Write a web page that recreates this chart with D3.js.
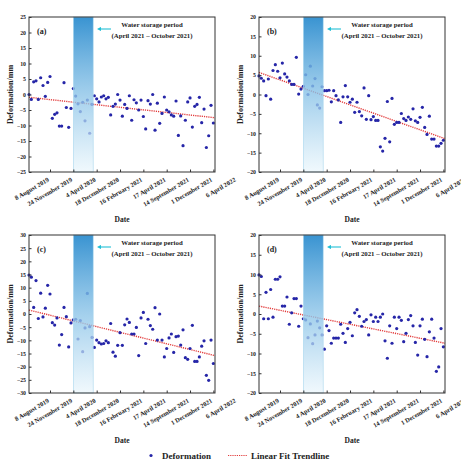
<!DOCTYPE html>
<html>
<head>
<meta charset="utf-8">
<script src="https://cdn.jsdelivr.net/npm/d3@7"></script>
<style>
  body { margin: 0; background: #fff; }
</style>
</head>
<body>
<script>
// Acquisition index axis: a date label every 10 acquisitions
const dateLabels = ["8 August 2019", "24 November 2019", "4 April 2020", "18 December 2020",
    "16 February 2021", "17 April 2021", "14 September 2021", "1 December 2021", "6 April 2022"];
const dateTickIndex = [9, 19, 29, 39, 49, 59, 69, 79, 89];
const indexMax = 79.7;
const storageBand = [19, 27.5];

const panelLabels = ["(a)", "(b)", "(c)", "(d)"];
const yDomainA = [-25, 25];
const yDomainB = [-20, 20];
const yDomainC = [-30, 30];
const yDomainD = [-20, 20];

// Deformation (mm), one value per acquisition
const deformA = [0.0, -1.6, 4.1, 4.4, -1.6, 5.4, 2.9, -0.6, 3.9, 5.8, -7.7, -6.4, -5.9, -10.2, -10.2, 3.8, -4.2, -10.6, -4.5, 1.9,
    -0.5, -3.0, -5.5, -2.5, -8.5, -1.8, -12.5,
    -3.2, -0.4, -1.4, -2.4, -0.8, -0.4, -1.4, -0.9, -6.6, -3.8, -3.1, 0.0, -1.8, -7.0, -3.2, -4.5, -0.4, -8.3, -1.7, -2.7,
    -5.0, -1.8, -7.1, -11.1, -2.0, -3.1, 0.0, -11.5, -2.8, -9.3, -6.1, -0.8, -5.0, -5.6, -6.6, -7.0, -2.1, -13.2, -6.9,
    -16.5, -8.3, -2.4, -1.1, -10.5, -3.8, -3.2, -0.9, -9.1, -4.7, -17.1, -13.3, -3.5, -9.2];
const deformB = [4.8, 4.2, 3.5, -0.3, 4.0, -1.2, 6.2, 7.7, 6.0, 4.3, 8.1, 5.3, 4.5, 3.5, 2.6, 2.6, 9.6, 0.1, 1.4, 2.1,
    5.1, 0.0, 7.3, 2.2, 4.1, -2.7, -3.5,
    2.0, 1.0, 1.0, 1.1, -1.9, 1.0, -0.3, -1.4, -7.2, -0.6, 2.3, -0.6, -2.0, -1.2, -4.6, -2.0, -4.4, -5.5, 1.7, -6.4,
    -0.3, -6.5, -5.7, -6.7, -6.7, -13.5, -14.6, -11.3, -1.8, -12.2, -1.0, -7.7, -7.2, -7.2, -4.9, -6.2, -6.7, -5.8, -6.4,
    -3.7, -6.8, -7.2, -5.9, -3.3, -8.5, -10.3, -5.6, -11.5, -11.5, -13.3, -13.3, -12.6, -11.8];
const deformC = [14.8, 14.0, 2.5, 12.7, -1.7, 7.9, -1.1, 2.2, 10.9, 7.6, -3.3, -4.2, -1.5, -11.8, -7.8, 2.5, -1.0, -12.5, -3.4, -2.2,
    -2.0, -9.5, -2.5, -14.3, -5.3, 7.8, -4.8,
    -8.9, -12.7, -9.9, -10.9, -11.4, -11.2, -10.2, -10.9, -3.6, -14.5, -16.0, -11.9, -7.1, -11.9, -4.1, -1.9, -3.2, -7.6,
    -7.6, -5.1, -15.8, -1.5, 0.6, -11.2, -2.0, -4.4, -5.8, 2.4, -9.9, 0.0, -9.9, -16.3, -13.1, -9.1, -7.6, -14.6, -8.6,
    -8.4, -11.8, -6.0, -16.6, -17.2, -13.1, -4.3, -18.0, -18.0, -16.3, -12.2, -10.2, -23.3, -25.2, -9.9, -18.8];
const deformD = [9.9, 9.5, -1.2, 5.5, -1.2, 6.2, -0.8, 8.8, 8.8, 9.4, 2.0, 2.0, 4.3, -2.6, 0.3, 3.9, 3.9, -3.1, 2.0, -1.2,
    -1.5, -6.0, -2.5, -7.5, -5.3, -1.8, -3.5,
    -5.3, -8.9, -3.0, -4.2, -7.4, -6.1, -6.1, -6.1, -2.6, -4.9, -7.2, -3.7, -2.1, -5.5, 0.3, 1.1, -0.6, -3.1, -1.9, -1.4,
    -5.3, -0.2, -1.9, -0.8, -1.9, -0.8, 0.0, -6.8, -11.2, -3.0, -7.4, -0.8, -3.7, -0.8, -1.6, -7.0, -4.9, -1.4, -0.4,
    -3.0, -7.2, -10.4, -3.0, -1.3, -6.4, -10.8, -4.5, -1.3, -6.1, -14.5, -13.4, -3.7, -8.3];

// Linear fit value at the first and last index of the axis
const fitA = [-0.9, -7.5];
const fitB = [5.7, -11.4];
const fitC = [1.5, -15.8];
const fitD = [2.0, -7.4];

const font = "'Liberation Serif', 'Times New Roman', serif";
const pointColor = "#2626a8";
const fitColor = "#e23b3b";

const layout = [
    { left: 29, top: 17, width: 186, height: 155 },
    { left: 259, top: 17, width: 186, height: 155 },
    { left: 29, top: 235, width: 186, height: 158 },
    { left: 259, top: 235, width: 186, height: 158 }
];
const panels = [
    { values: deformA, fit: fitA, domain: yDomainA },
    { values: deformB, fit: fitB, domain: yDomainB },
    { values: deformC, fit: fitC, domain: yDomainC },
    { values: deformD, fit: fitD, domain: yDomainD }
].map((p, i) => Object.assign(p, layout[i], { label: panelLabels[i] }));

const svg = d3.select("body").append("svg")
    .attr("width", 461)
    .attr("height", 462)
    .style("font-family", font)
    .style("font-weight", "bold");

const defs = svg.append("defs");
const grad = defs.append("linearGradient")
    .attr("id", "bandFill")
    .attr("x1", 0).attr("y1", 0)
    .attr("x2", 0).attr("y2", 1);
grad.append("stop").attr("offset", "0%").attr("stop-color", "#2f8ecf").attr("stop-opacity", 0.95);
grad.append("stop").attr("offset", "50%").attr("stop-color", "#8cc4e8").attr("stop-opacity", 0.8);
grad.append("stop").attr("offset", "100%").attr("stop-color", "#eaf6fc").attr("stop-opacity", 0.7);

defs.append("marker")
    .attr("id", "arrowHead")
    .attr("viewBox", "0 0 10 10")
    .attr("refX", 5).attr("refY", 5)
    .attr("markerWidth", 4).attr("markerHeight", 4)
    .attr("orient", "auto")
    .append("path")
    .attr("d", "M0,0 L10,5 L0,10 z")
    .attr("fill", "#22bfd6");

function drawPanel(p) {
    const g = svg.append("g")
        .attr("transform", `translate(${p.left}, ${p.top})`);

    const x = d3.scaleLinear().domain([0, indexMax]).range([0, p.width]);
    const y = d3.scaleLinear().domain(p.domain).range([p.height, 0]);

    // fit line under everything else
    g.append("path")
        .datum([[0, p.fit[0]], [indexMax, p.fit[1]]])
        .attr("d", d3.line().x(d => x(d[0])).y(d => y(d[1])))
        .attr("fill", "none")
        .attr("stroke", fitColor)
        .attr("stroke-width", 1.4)
        .attr("stroke-dasharray", "1.2,1");

    g.selectAll("circle")
        .data(p.values)
        .join("circle")
        .attr("cx", (d, i) => x(i))
        .attr("cy", d => y(d))
        .attr("r", 1.6)
        .attr("fill", pointColor);

    // water storage period band
    g.append("rect")
        .attr("x", x(storageBand[0]))
        .attr("y", 0)
        .attr("width", x(storageBand[1]) - x(storageBand[0]))
        .attr("height", p.height)
        .attr("fill", "url(#bandFill)")
        .attr("stroke", "#a9d7ef")
        .attr("stroke-width", 0.6);

    g.append("rect")
        .attr("width", p.width)
        .attr("height", p.height)
        .attr("fill", "none")
        .attr("stroke", "#333")
        .attr("stroke-width", 1);

    const yAxis = d3.axisLeft(y)
        .tickValues(d3.range(p.domain[0], p.domain[1] + 1, 5))
        .tickSizeInner(-2.5)
        .tickSizeOuter(0)
        .tickPadding(3);
    const yg = g.append("g").call(yAxis);
    yg.select(".domain").remove();
    yg.selectAll("line").attr("stroke", "#333");
    yg.selectAll("text")
        .style("font-family", font)
        .style("font-size", "5.8px")
        .style("font-weight", "bold")
        .attr("fill", "#222");

    const xAxis = d3.axisBottom(x)
        .tickValues(dateTickIndex)
        .tickFormat((d, i) => dateLabels[i])
        .tickSizeInner(-2.5)
        .tickSizeOuter(0);
    const xg = g.append("g")
        .attr("transform", `translate(0, ${p.height})`)
        .call(xAxis);
    xg.select(".domain").remove();
    xg.selectAll("line")
        .attr("stroke", "#333")
        .filter(d => d > indexMax).remove();
    xg.selectAll("text")
        .attr("x", 0).attr("y", 0).attr("dy", 0)
        .attr("text-anchor", "end")
        .attr("transform", "translate(-1, 9) rotate(-30)")
        .style("font-family", font)
        .style("font-size", "6.4px")
        .style("font-weight", "bold")
        .attr("fill", "#222");

    g.append("text")
        .attr("x", 8)
        .attr("y", 17)
        .style("font-size", "8px")
        .attr("fill", "#222")
        .text(p.label);

    // storage period note with arrow
    g.append("line")
        .attr("x1", 82).attr("y1", 12)
        .attr("x2", 70).attr("y2", 12)
        .attr("stroke", "#22bfd6")
        .attr("stroke-width", 1.1)
        .attr("marker-end", "url(#arrowHead)");
    g.append("text")
        .attr("x", 123).attr("y", 10)
        .attr("text-anchor", "middle")
        .style("font-size", "6.8px")
        .attr("fill", "#222")
        .text("Water storage period");
    g.append("text")
        .attr("x", 123).attr("y", 20.5)
        .attr("text-anchor", "middle")
        .style("font-size", "6.8px")
        .attr("fill", "#222")
        .text("(April 2021 \u2013 October 2021)");

    g.append("text")
        .attr("transform", `translate(-16, ${p.height / 2}) rotate(-90)`)
        .attr("text-anchor", "middle")
        .style("font-size", "8px")
        .attr("fill", "#222")
        .text("Deformation/mm");

    g.append("text")
        .attr("x", p.width / 2)
        .attr("y", p.height + 50)
        .attr("text-anchor", "middle")
        .style("font-size", "7.5px")
        .attr("fill", "#222")
        .text("Date");
}

panels.forEach(drawPanel);

// Legend
const legend = svg.append("g");
legend.append("circle")
    .attr("cx", 151).attr("cy", 455.5)
    .attr("r", 1.6)
    .attr("fill", pointColor);
legend.append("text")
    .attr("x", 162).attr("y", 459)
    .style("font-size", "9px")
    .attr("fill", "#222")
    .text("Deformation");
legend.append("line")
    .attr("x1", 228).attr("x2", 247)
    .attr("y1", 455.5).attr("y2", 455.5)
    .attr("stroke", fitColor)
    .attr("stroke-width", 1.2)
    .attr("stroke-dasharray", "1.2,1");
legend.append("text")
    .attr("x", 251).attr("y", 459)
    .style("font-size", "9px")
    .attr("fill", "#222")
    .text("Linear Fit Trendline");
</script>
</body>
</html>
